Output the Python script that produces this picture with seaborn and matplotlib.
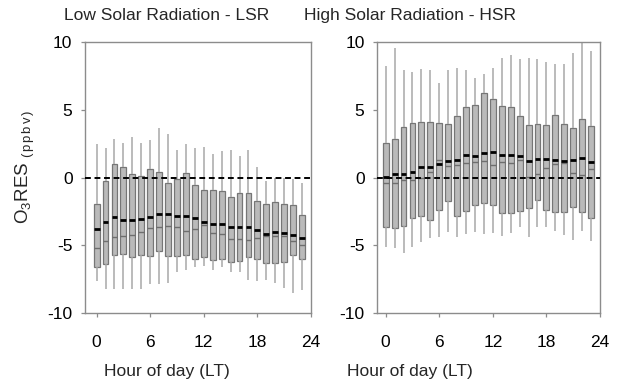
import numpy as np
import pandas as pd
import matplotlib
matplotlib.use("Agg")
import matplotlib.pyplot as plt
import seaborn as sns

# ---------------- data ----------------
hours = list(range(24))

# Low Solar Radiation - LSR
lsr_whisk_hi = [2.46, 2.21, 2.83, 2.58, 3.00, 2.58, 2.76, 3.62, 3.20, 2.02, 2.46, 2.21,
                2.26, 1.72, 1.92, 2.05, 1.60, 2.02, 0.74, -0.25, 0.00, 0.00, -0.12, -0.44]
lsr_q3 = [-1.92, -0.25, 1.03, 0.74, 0.25, 0.12, 0.66, 0.37, -0.44, -0.12, 0.30, -0.54,
          -0.93, -0.93, -1.03, -1.43, -1.18, -1.13, -1.77, -1.94, -1.80, -1.92, -2.04, -2.75]
lsr_mean = [-3.81, -3.30, -2.90, -3.10, -3.13, -3.03, -2.90, -2.66, -2.73, -2.85, -2.85, -3.00,
            -3.25, -3.42, -3.40, -3.69, -3.69, -3.69, -3.84, -4.16, -4.04, -4.13, -4.28, -4.48]
lsr_median = [-5.17, -4.70, -4.38, -4.35, -4.28, -4.03, -3.71, -3.64, -3.57, -3.69, -3.94, -3.81,
              -3.54, -4.11, -4.16, -4.55, -4.53, -4.61, -4.50, -4.35, -4.33, -4.35, -4.70, -4.99]
lsr_q1 = [-6.59, -6.35, -5.71, -5.66, -5.90, -5.73, -5.76, -5.41, -5.83, -5.83, -5.73, -5.98,
          -5.88, -6.10, -6.05, -6.20, -6.15, -5.90, -6.05, -6.32, -6.32, -6.20, -5.71, -6.03]
lsr_whisk_lo = [-7.63, -8.24, -8.24, -8.24, -8.24, -8.24, -7.87, -7.87, -7.75, -7.01, -6.84, -6.64,
                -6.52, -6.84, -6.59, -6.94, -6.94, -7.58, -7.63, -7.58, -7.75, -8.12, -8.56, -8.31]

# High Solar Radiation - HSR
hsr_whisk_hi = [8.22, 9.53, 7.93, 7.75, 7.98, 7.90, 6.99, 7.93, 8.05, 7.95, 7.31, 7.65,
                8.05, 8.84, 9.01, 8.72, 8.84, 8.77, 8.52, 8.37, 8.40, 9.21, 10.0, 9.33]
hsr_q3 = [2.54, 2.86, 3.73, 4.02, 4.07, 4.12, 4.02, 3.98, 4.57, 5.23, 5.33, 6.27,
          5.80, 5.26, 5.19, 4.54, 3.88, 3.98, 3.88, 4.59, 3.98, 3.63, 4.35, 3.80]
hsr_mean = [0.07, 0.28, 0.28, 0.40, 0.80, 0.81, 0.97, 1.19, 1.28, 1.66, 1.61, 1.78,
            1.85, 1.63, 1.63, 1.56, 1.23, 1.33, 1.33, 1.26, 1.19, 1.26, 1.43, 1.16]
hsr_median = [-0.37, -0.37, -0.15, -0.15, 0.00, 0.40, 1.32, 0.86, 0.95, 1.07, 1.15, 1.25,
              0.94, 1.14, 1.09, 1.31, 0.07, 0.27, 0.69, 1.01, 1.06, 0.30, 0.20, 0.64]
hsr_q1 = [-3.68, -3.75, -3.56, -2.96, -2.81, -3.11, -2.42, -1.73, -2.86, -2.47, -2.02, -1.85,
          -2.02, -2.62, -2.62, -2.44, -2.27, -1.63, -2.40, -2.52, -2.57, -2.15, -2.57, -3.01]
hsr_whisk_lo = [-5.11, -5.23, -5.56, -5.11, -4.79, -4.49, -4.37, -4.05, -4.37, -4.20, -4.05, -4.17,
                -4.10, -4.30, -4.10, -3.63, -4.37, -3.63, -3.68, -3.98, -4.22, -4.62, -3.98, -4.69]

titles = ["Low Solar Radiation - LSR", "High Solar Radiation - HSR"]
xticks = [0, 6, 12, 18, 24]
yticks = [-10, -5, 0, 5, 10]
xlabel = "Hour of day (LT)"
ylabel = r"O$_3$RES $_{\mathrm{(\,p\,p\,b\,v\,)}}$"


def five_number_frame(lo, q1, med, q3, hi):
    """Each box is given by its five-number summary; whis=(0,100) makes the
    whiskers run to min/max, and for 5 points the quartiles are q1/q3 exactly."""
    rows = []
    for h, a, b, c, d, e in zip(hours, lo, q1, med, q3, hi):
        for v in (a, b, c, d, e):
            rows.append({"hour": h, "value": v})
    return pd.DataFrame(rows)


panels = [
    (five_number_frame(lsr_whisk_lo, lsr_q1, lsr_median, lsr_q3, lsr_whisk_hi), lsr_mean),
    (five_number_frame(hsr_whisk_lo, hsr_q1, hsr_median, hsr_q3, hsr_whisk_hi), hsr_mean),
]

# ---------------- style ----------------
sns.set_style("ticks")
plt.rcParams["font.family"] = ["Liberation Sans", "DejaVu Sans"]
plt.rcParams["mathtext.fontset"] = "custom"
plt.rcParams["mathtext.rm"] = "Liberation Sans"
plt.rcParams["mathtext.it"] = "Liberation Sans"
plt.rcParams["mathtext.bf"] = "Liberation Sans:bold"

FS = 12.5
spine_col = "#8c8c8c"
box_fill = "#bababa"
box_edge = "#767676"
whisk_col = "#a8a8a8"
median_col = "#6e6e6e"
box_w = 0.66

fig = plt.figure(figsize=(6.22, 3.88), dpi=100)
W, H = 622, 388
axes_px = [(85, 42, 311, 313), (377, 42, 600, 313)]
xlims = [(-1.3, 24), (-0.97, 24)]
title_cx = [167, 410]

for i, ((df, means), (x0, y0, x1, y1)) in enumerate(zip(panels, axes_px)):
    ax = fig.add_axes([x0 / W, 1 - y1 / H, (x1 - x0) / W, (y1 - y0) / H])
    sns.boxplot(
        data=df, x="hour", y="value", native_scale=True, ax=ax,
        whis=(0, 100), width=box_w, showcaps=False, showfliers=False,
        color=box_fill, linewidth=0.9,
        boxprops=dict(facecolor=box_fill, edgecolor=box_edge, linewidth=0.9),
        whiskerprops=dict(color=whisk_col, linewidth=1.1),
        medianprops=dict(color=median_col, linewidth=1.0),
    )
    # mean lines (thick black)
    hx = np.asarray(hours, dtype=float)
    ax.hlines(means, hx - box_w / 2, hx + box_w / 2, colors="black",
              linewidth=2.0, zorder=4)
    # zero reference line
    ax.axhline(0, color="black", linewidth=1.4, linestyle=(0, (3.0, 1.9)), zorder=5)

    ax.set_xlim(*xlims[i])
    ax.set_ylim(-10, 10)
    ax.set_xticks(xticks)
    ax.set_xticklabels([str(t) for t in xticks])
    ax.set_yticks(yticks)
    ax.set_yticklabels([str(t) for t in yticks])
    ax.tick_params(axis="both", direction="out", length=3, width=0.9,
                   color=spine_col, labelsize=FS, labelcolor="black")
    ax.tick_params(axis="x", pad=13)
    ax.tick_params(axis="y", pad=6)
    for s in ax.spines.values():
        s.set_visible(True)
        s.set_color(spine_col)
        s.set_linewidth(1.0)

    cx = (title_cx[i] - x0) / (x1 - x0)
    ax.set_xlabel(xlabel, fontsize=FS)
    ax.xaxis.set_label_coords(cx, -(376 - y1) / (y1 - y0))
    ax.xaxis.label.set_verticalalignment("baseline")
    ax.text(cx, 1 + (y0 - 20) / (y1 - y0), titles[i], transform=ax.transAxes,
            ha="center", va="baseline", fontsize=FS)
    if i == 0:
        ax.set_ylabel(ylabel, fontsize=13.5)
        ax.yaxis.set_label_coords((25 - x0) / (x1 - x0), (y1 - 167) / (y1 - y0))
        ax.yaxis.label.set_verticalalignment("center")
    else:
        ax.set_ylabel("")

fig.savefig("out.png", dpi=100)
